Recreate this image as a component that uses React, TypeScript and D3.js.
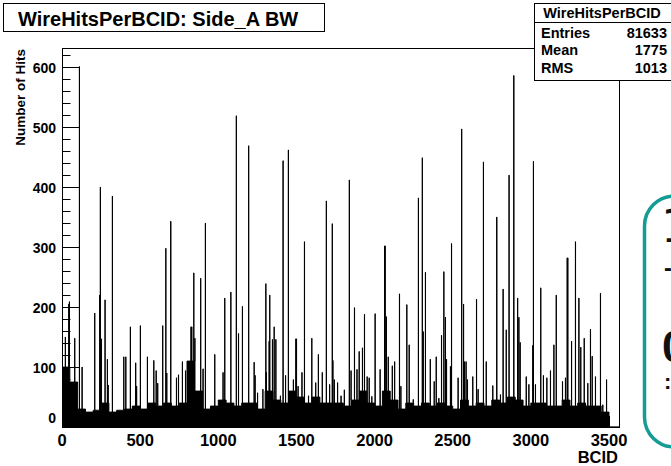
import React from "react";
import * as d3 from "d3";

// ---- data ----
const nBins = 3564;
const floorStep = 50;
// approximate noise floor (hits) per block of 50 BCIDs, 0..3500
const floorLevels = [
  100, 75, 30, 25, 28, 40, 25, 28, 30, 35, 30, 40, 35, 40, 35, 40, 110, 60, 30, 35, 45, 40, 35, 40,
  40, 30, 60, 45, 40, 60, 50, 40, 50, 40, 40, 40, 35, 45, 60, 40, 35, 60, 45, 30, 40, 35, 40, 35,
  40, 35, 30, 45, 35, 40, 35, 45, 40, 50, 45, 35, 40, 40, 35, 35, 45, 35, 40, 35, 35, 25,
];
const spikeBcid = [
  21, 43, 47, 81, 111, 128, 209, 241, 245, 252, 275, 290, 295, 322, 395, 408, 437, 471, 477, 501,
  546, 587, 602, 612, 644, 664, 670, 695, 696, 732, 745, 770, 790, 825, 830, 843, 850, 887, 902, 917,
  977, 1030, 1041, 1080, 1115, 1129, 1154, 1194, 1229, 1235, 1251, 1285, 1304, 1307, 1325, 1329,
  1346, 1357, 1368, 1384, 1397, 1414, 1430, 1448, 1458, 1480, 1496, 1500, 1510, 1535, 1551, 1577,
  1598, 1623, 1640, 1665, 1691, 1712, 1729, 1733, 1742, 1763, 1785, 1806, 1838, 1849, 1871, 1887,
  1901, 1922, 1935, 1952, 1965, 1982, 2003, 2035, 2064, 2067, 2075, 2087, 2113, 2128, 2159, 2168,
  2206, 2221, 2247, 2280, 2305, 2311, 2325, 2356, 2381, 2394, 2411, 2428, 2443, 2453, 2460, 2485,
  2492, 2534, 2557, 2569, 2575, 2585, 2594, 2628, 2652, 2662, 2696, 2714, 2756, 2781, 2782, 2805,
  2822, 2842, 2860, 2890, 2891, 2915, 2923, 2931, 2970, 2987, 3012, 3016, 3029, 3063, 3080, 3102,
  3125, 3147, 3162, 3202, 3221, 3232, 3236, 3260, 3285, 3307, 3319, 3341, 3364, 3381, 3392, 3413,
  3445, 3460, 3484, 3499,
];
const spikeHits = [
  150, 205, 209, 148, 601, 100, 190, 220, 400, 147, 212, 113, 70, 385, 117, 117, 167, 107, 68, 169,
  117, 111, 94, 73, 169, 298, 90, 343, 343, 82, 87, 109, 94, 167, 167, 257, 148, 248, 97, 340,
  121, 91, 215, 225, 519, 156, 201, 469, 108, 86, 57, 63, 239, 91, 143, 220,
  146, 167, 146, 43, 52, 444, 86, 462, 57, 79, 147, 147, 68, 91, 309, 52,
  148, 74, 121, 91, 377, 71, 339, 111, 79, 74, 52, 62, 412, 94, 199, 96,
  126, 132, 188, 84, 82, 51, 189, 96, 302, 302, 184, 117, 102, 109, 222, 68,
  204, 137, 46, 382, 449, 159, 258, 113, 76, 117, 48, 153, 259, 183, 113, 101,
  306, 82, 497, 205, 109, 109, 79, 84, 213, 63, 442, 109, 69, 350, 350, 54,
  230, 162, 420, 586, 586, 215, 183, 141, 84, 71, 136, 443, 71, 232, 86, 82,
  94, 137, 220, 76, 82, 282, 282, 143, 309, 215, 133, 148, 73, 163, 118, 84,
  223, 37, 79, 21,
];
const xTicks = [0, 500, 1000, 1500, 2000, 2500, 3000, 3500];
const yTicks = [0, 100, 200, 300, 400, 500, 600];
const statLabels = ["Entries", "Mean", "RMS"];
const statValues = ["81633", "1775", "1013"];

const W = 671;
const H = 466;
const left = 62, right = 619, top = 48, bottom = 427;
const font = "'Liberation Sans', Arial, Helvetica, sans-serif";

export default function App() {
  const x = d3.scaleLinear().domain([0, nBins]).range([left, right]);
  const y = d3.scaleLinear().domain([0, 632]).range([bottom, top]);

  const values: number[] = [];
  for (let b = 0; b < nBins; b++) {
    const fi = Math.floor(b / floorStep);
    values.push(fi < floorLevels.length ? floorLevels[fi] : 0);
  }
  spikeBcid.forEach((b, i) => {
    values[b] = Math.max(values[b], spikeHits[i]);
  });
  const pts = values.map((v, i) => ({ b: i, v }));
  pts.push({ b: nBins, v: 0 });
  const area = d3
    .area<{ b: number; v: number }>()
    .curve(d3.curveStepAfter)
    .x((d) => x(d.b))
    .y0(y(0))
    .y1((d) => y(d.v));
  const path = area(pts) || "";

  const yMinor = d3.range(0, 632, 20);
  const xMinor = d3.range(0, 3564, 100);

  return (
    <svg
      width={W}
      height={H}
      style={{ position: "absolute", left: 0, top: 0, background: "#fff" }}
      fontFamily={font}
    >
      <rect x={0} y={0} width={W} height={H} fill="#fff" />
      <defs>
        <clipPath id="plotclip">
          <rect x={left} y={top} width={right - left} height={bottom - top} />
        </clipPath>
      </defs>
      <g clipPath="url(#plotclip)">
        <path d={path} fill="#000" stroke="#000" strokeWidth={1} />
      </g>
      {/* y ticks */}
      {yMinor.map((v) => (
        <line
          key={"ym" + v}
          x1={left}
          x2={left + (v % 100 === 0 ? 17 : 8.5)}
          y1={Math.round(y(v)) + 0.5}
          y2={Math.round(y(v)) + 0.5}
          stroke="#000"
          strokeWidth={1}
        />
      ))}
      {xMinor.map((v) => (
        <line
          key={"xm" + v}
          x1={Math.round(x(v)) + 0.5}
          x2={Math.round(x(v)) + 0.5}
          y1={bottom}
          y2={bottom - (v % 500 === 0 ? 11 : 5.5)}
          stroke="#000"
          strokeWidth={1}
        />
      ))}
      {/* frame */}
      <rect
        x={left + 0.5}
        y={top + 0.5}
        width={right - left}
        height={bottom - top}
        fill="none"
        stroke="#000"
        strokeWidth={1}
      />
      {/* y tick labels */}
      {yTicks.map((v) => (
        <text
          key={"yl" + v}
          x={56}
          y={v === 0 ? y(v) - 4 : y(v) + 5.5}
          textAnchor="end"
          fontSize={14}
          fontWeight="bold"
        >
          {v}
        </text>
      ))}
      {/* x tick labels */}
      {xTicks.map((v) => (
        <text key={"xl" + v} x={x(v)} y={446} textAnchor="middle" fontSize={16.5} fontWeight="bold">
          {v}
        </text>
      ))}
      <text x={618} y={463} textAnchor="end" fontSize={16.5} fontWeight="bold">
        BCID
      </text>
      <text
        transform="translate(25,49) rotate(-90)"
        textAnchor="end"
        fontSize={13.5}
        fontWeight="bold"
      >
        Number of Hits
      </text>
      {/* title box */}
      <rect x={3.5} y={3.5} width={321} height={28} fill="#fff" stroke="#000" strokeWidth={1} />
      <text x={18} y={26} fontSize={20} fontWeight="bold">
        WireHitsPerBCID: Side_A BW
      </text>
      {/* stats box */}
      <rect x={534.5} y={3.5} width={140} height={77} fill="#fff" stroke="#000" strokeWidth={1} />
      <line x1={534.5} x2={671} y1={22.5} y2={22.5} stroke="#000" strokeWidth={1} />
      <text x={602} y={18} textAnchor="middle" fontSize={14.5} fontWeight="bold">
        WireHitsPerBCID
      </text>
      {statLabels.map((s, i) => (
        <g key={s}>
          <text x={541} y={37.5 + i * 17.5} fontSize={14.5} fontWeight="bold">
            {s}
          </text>
          <text x={667} y={37.5 + i * 17.5} textAnchor="end" fontSize={14.5} fontWeight="bold">
            {statValues[i]}
          </text>
        </g>
      ))}
      {/* cropped callout at the right edge */}
      <rect
        x={644.5}
        y={196}
        width={80}
        height={251}
        rx={30}
        ry={30}
        fill="#fff"
        stroke="#169c94"
        strokeWidth={3.5}
      />
      <text x={661} y={242} fontSize={46} fill="#111" fontFamily="'DejaVu Sans', sans-serif">
        1
      </text>
      <text x={664} y={276} fontSize={24} fontWeight="bold" fill="#111">
        -
      </text>
      <text x={662} y={362} fontSize={44} fontWeight="bold" fill="#111">
        0
      </text>
      <text x={664} y={389} fontSize={22} fontWeight="bold" fill="#111">
        :
      </text>
    </svg>
  );
}
